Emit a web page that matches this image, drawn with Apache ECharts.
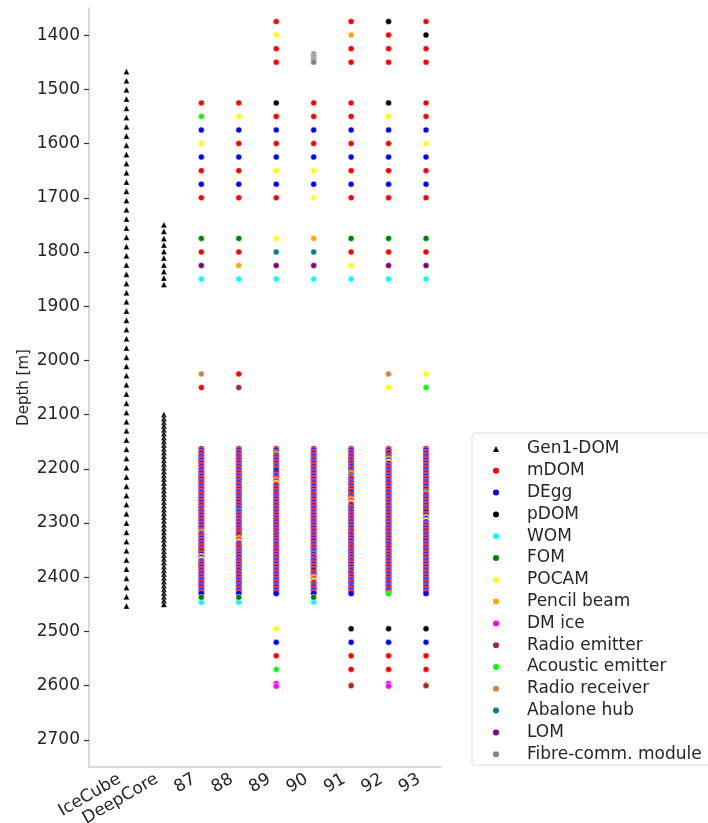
<!DOCTYPE html>
<html><head><meta charset="utf-8">
<script src="https://cdn.jsdelivr.net/npm/echarts@6/dist/echarts.min.js"></script>
<style>html,body{margin:0;padding:0;background:#fff}#c{width:708px;height:823px}</style>
</head><body><div id="c"></div>
<script>
// ---------- data ----------
const categories = ['IceCube','DeepCore','87','88','89','90','91','92','93'];
const categoryTicks = [0,1,2,3,4,5,6,7,8];
const depthTicks = [1400,1500,1600,1700,1800,1900,2000,2100,2200,2300,2400,2500,2600,2700];

const deviceNames = ['Gen1-DOM','mDOM','DEgg','pDOM','WOM','FOM','POCAM','Pencil beam','DM ice','Radio emitter','Acoustic emitter','Radio receiver','Abalone hub','LOM','Fibre-comm. module'];
const deviceCodes = ['T','M','D','P','W','F','C','B','I','R','A','V','H','L','G'];
const deviceColors = ['#000000','#ff0000','#0000ff','#000000','#00ffff','#008000','#ffff00','#ffa500','#ff00ff','#a52a2a','#00ff00','#cd853f','#008080','#800080','#808080'];

const icecubeDepths = [1467,1484,1501,1518,1535,1552,1569,1586,1603,1620,1637,1654,1671,1688,1705,1722,1739,1756,1773,1790,1807,1824,1841,1858,1875,1892,1909,1926,1943,1960,1977,1994,2011,2028,2045,2062,2079,2096,2113,2130,2147,2164,2181,2198,2215,2232,2249,2266,2283,2300,2317,2334,2351,2368,2385,2402,2419,2436,2453];
const deepcoreDepths = [1750,1762,1775,1787,1799,1811,1824,1836,1848,1860,
  2100,2107,2114,2121,2128,2135,2142,2149,2156,2163,2170,2177,2184,2191,2198,2205,2212,2219,2226,2233,2240,2247,2254,2261,2268,2275,2282,2289,2296,2303,2310,2317,2324,2331,2338,2345,2352,2359,2366,2373,2380,2387,2394,2401,2408,2415,2422,2429,2436,2443,2450];

// dense (physics) region of the Upgrade strings
const denseDepths = [2163,2166,2169,2172,2175,2178,2181,2184,2187,2190,2193,2196,2199,2202,2205,2208,2211,2214,2217,2220,2223,2226,2229,2232,2235,2238,2241,2244,2247,2250,2253,2256,2259,2262,2265,2268,2271,2274,2277,2280,2283,2286,2289,2292,2295,2298,2301,2304,2307,2310,2313,2316,2319,2322,2325,2328,2331,2334,2337,2340,2343,2346,2349,2352,2355,2358,2361,2364,2367,2370,2373,2376,2379,2382,2385,2388,2391,2394,2397,2400,2403,2406,2409,2412,2415,2418,2421,2424,2427,2430];
const dense87 = ['MDMDMDMDMD','MDMDMDMDMD','MDMDMDMDMD','MDMDMDMDMD','MDMDMDMDMD','MAMDMDMDMD','MDMPMDBDCD','MDMDMDMDMD','MDMDMDMDMD'];
const dense88 = ['MDMDMDMDMD','MDMDMDMDMD','MDMDMDMDMD','MDMDMDMDHD','MDMDMDMDMD','MDMPMBMCMD','MDMDMDMDMD','MDMDMDMDMD','MDMDMDMDMD'];
const dense89 = ['MDMAMDMDMD','MDMDPDMDMB','MCMDMDMDMD','MDMDMDMDMD','MDMDMDMDMD','MDMDMDMDMD','MDMDMDMDMD','MDMDMDMDMD','MDMDMDMDMD'];
const dense90 = ['MDMDMDMDMD','MDMDMDMDMD','MDMDMDMDMD','MDMDMDMDMD','MDMDMDMDMD','MDMDMDMDMD','MDMDHDMDMD','MDMDMPMDMB','MCMDMDMDMD'];
const dense91 = ['MDMDMDMDMD','MDMDMAMHMD','MDMDMDMPMD','MBMCMDMDMD','MDMDMDMDMD','MDMDMDMDMD','MDMDMDMDMD','MDMDMDMDMD','MDMDMDMDMD'];
const dense92 = ['MDMPMDBDCD','MDMDMDMDMD','MDMDMDMDMD','MDMDMDMDMD','MDMDMDMDMD','MDMDMDMDMD','MDMDMDMDMD','MDMDMDMDMD','MDMDMDMDMA'];
const dense93 = ['MDMDMDMDMD','MDMDMDMDMD','MDMDMDMAMD','MDMDMDMDMP','MDBDCDMDMD','MDMDMDMDMD','MDMDMDMDMD','MDMDMDMDMD','MDMDMDMDMD'];

// other modules on the Upgrade strings: [depth, device code]
const string87 = [[1525,'M'],[1550,'A'],[1575,'D'],[1600,'C'],[1625,'D'],[1650,'M'],[1675,'D'],[1700,'M'],[1775,'F'],[1800,'M'],[1825,'L'],[1850,'W'],[2025,'V'],[2050,'M'],[2437,'F'],[2446,'W']];
const string88 = [[1525,'M'],[1550,'C'],[1575,'D'],[1600,'M'],[1625,'D'],[1650,'M'],[1675,'D'],[1700,'M'],[1775,'F'],[1800,'M'],[1825,'B'],[1850,'W'],[2025,'M'],[2050,'R'],[2437,'F'],[2446,'W']];
const string89 = [[1375,'M'],[1400,'C'],[1425,'M'],[1450,'M'],[1525,'P'],[1550,'M'],[1575,'D'],[1600,'M'],[1625,'D'],[1650,'C'],[1675,'D'],[1700,'M'],[1775,'C'],[1800,'H'],[1825,'L'],[1850,'W'],[2495,'C'],[2520,'D'],[2545,'M'],[2570,'A'],[2596,'I'],[2601,'I']];
const string90 = [[1435,'G'],[1438,'G'],[1441,'G'],[1444,'G'],[1447,'G'],[1450,'G'],[1525,'M'],[1550,'M'],[1575,'D'],[1600,'M'],[1625,'D'],[1650,'C'],[1675,'D'],[1700,'C'],[1775,'B'],[1800,'H'],[1825,'L'],[1850,'W'],[2437,'F'],[2446,'W']];
const string91 = [[1375,'M'],[1400,'B'],[1425,'M'],[1450,'M'],[1525,'M'],[1550,'M'],[1575,'D'],[1600,'M'],[1625,'D'],[1650,'M'],[1675,'D'],[1700,'M'],[1775,'F'],[1800,'M'],[1825,'C'],[1850,'W'],[2495,'P'],[2520,'D'],[2545,'M'],[2570,'M'],[2598,'B'],[2600,'R']];
const string92 = [[1375,'P'],[1400,'M'],[1425,'M'],[1450,'M'],[1525,'P'],[1550,'C'],[1575,'D'],[1600,'M'],[1625,'D'],[1650,'M'],[1675,'D'],[1700,'M'],[1775,'F'],[1800,'M'],[1825,'L'],[1850,'W'],[2025,'V'],[2050,'C'],[2495,'P'],[2520,'D'],[2545,'M'],[2570,'M'],[2596,'I'],[2601,'I']];
const string93 = [[1375,'M'],[1400,'P'],[1425,'M'],[1450,'M'],[1525,'M'],[1550,'M'],[1575,'D'],[1600,'C'],[1625,'D'],[1650,'M'],[1675,'D'],[1700,'M'],[1775,'F'],[1800,'M'],[1825,'L'],[1850,'W'],[2025,'C'],[2050,'A'],[2495,'P'],[2520,'D'],[2545,'M'],[2570,'M'],[2598,'B'],[2600,'R']];

// ---------- build ----------
const upgradeStrings = [string87,string88,string89,string90,string91,string92,string93];
const denseCodes = [dense87,dense88,dense89,dense90,dense91,dense92,dense93].map(g => g.join(''));
const colorOf = c => deviceColors[deviceCodes.indexOf(c)];
const FONT = 'DejaVu Sans';
const TXT = '#262626';

const series = [];
// dense region drawn in data order (deeper points on top), like the original
const denseData = [];
denseCodes.forEach((codes, s) => {
  for (let k = 0; k < denseDepths.length; k++) {
    denseData.push({ value: [s + 2, denseDepths[k]], itemStyle: { color: colorOf(codes[k]) } });
  }
});
series.push({
  type: 'scatter', name: '_dense', data: denseData, symbol: 'circle', symbolSize: 6,
  itemStyle: { borderColor: 'rgba(255,200,255,0.8)', borderWidth: 0.5, opacity: 1 }, z: 2, silent: true
});

deviceNames.forEach((name, i) => {
  const code = deviceCodes[i];
  let data = [];
  if (code === 'T') {
    icecubeDepths.forEach(d => data.push([0, d]));
    deepcoreDepths.forEach(d => data.push([1, d]));
  } else {
    upgradeStrings.forEach((st, s) => st.forEach(p => { if (p[1] === code) data.push([s + 2, p[0]]); }));
  }
  series.push({
    type: 'scatter', name, data,
    symbol: code === 'T' ? 'triangle' : 'circle',
    symbolSize: 6,
    itemStyle: { color: deviceColors[i], borderColor: '#fff', borderWidth: code === 'T' ? 0.3 : 0.5, opacity: 1 },
    z: 3
  });
});

const chart = echarts.init(document.getElementById('c'), null, { renderer: 'canvas' });
chart.setOption({
  animation: false,
  backgroundColor: '#ffffff',
  textStyle: { fontFamily: FONT },
  grid: { left: 89, right: 267, top: 8, bottom: 56, containLabel: false, outerBoundsMode: 'none' },
  xAxis: {
    type: 'value', min: -1, max: 8.4,
    axisLine: { show: true, onZero: false, lineStyle: { color: '#cccccc', width: 1.5 } },
    axisTick: { show: false },
    splitLine: { show: false },
    axisLabel: {
      customValues: categoryTicks,
      formatter: v => categories[Math.round(v)],
      rotate: 30, fontSize: 17, color: TXT, fontFamily: FONT, margin: 7,
      padding: [0, 8, 0, 0]
    }
  },
  yAxis: {
    type: 'value', inverse: true, min: 1350, max: 2750,
    name: 'Depth [m]', nameLocation: 'middle', nameGap: 57,
    nameTextStyle: { fontSize: 15, color: TXT, fontFamily: FONT },
    axisLine: { show: true, onZero: false, lineStyle: { color: '#cccccc', width: 1.5 } },
    axisTick: { show: true, length: 5, customValues: depthTicks, lineStyle: { color: '#333333', width: 1.2 } },
    splitLine: { show: false },
    axisLabel: { customValues: depthTicks, formatter: v => String(v), fontSize: 17, color: TXT, fontFamily: FONT, margin: 9 }
  },
  legend: {
    data: deviceNames,
    orient: 'vertical', left: 472, top: 433,
    itemWidth: 6, itemHeight: 6, itemGap: 4.8,
    itemStyle: { borderWidth: 0 },
    padding: [7.5, 12, 2.5, 21],
    borderColor: '#dddddd', borderWidth: 1, borderRadius: 3,
    backgroundColor: 'rgba(255,255,255,0.8)',
    textStyle: { fontSize: 17, color: TXT, fontFamily: FONT, padding: [0, 0, 0, 23] },
    selectedMode: false
  },
  series
});
</script>
</body></html>
